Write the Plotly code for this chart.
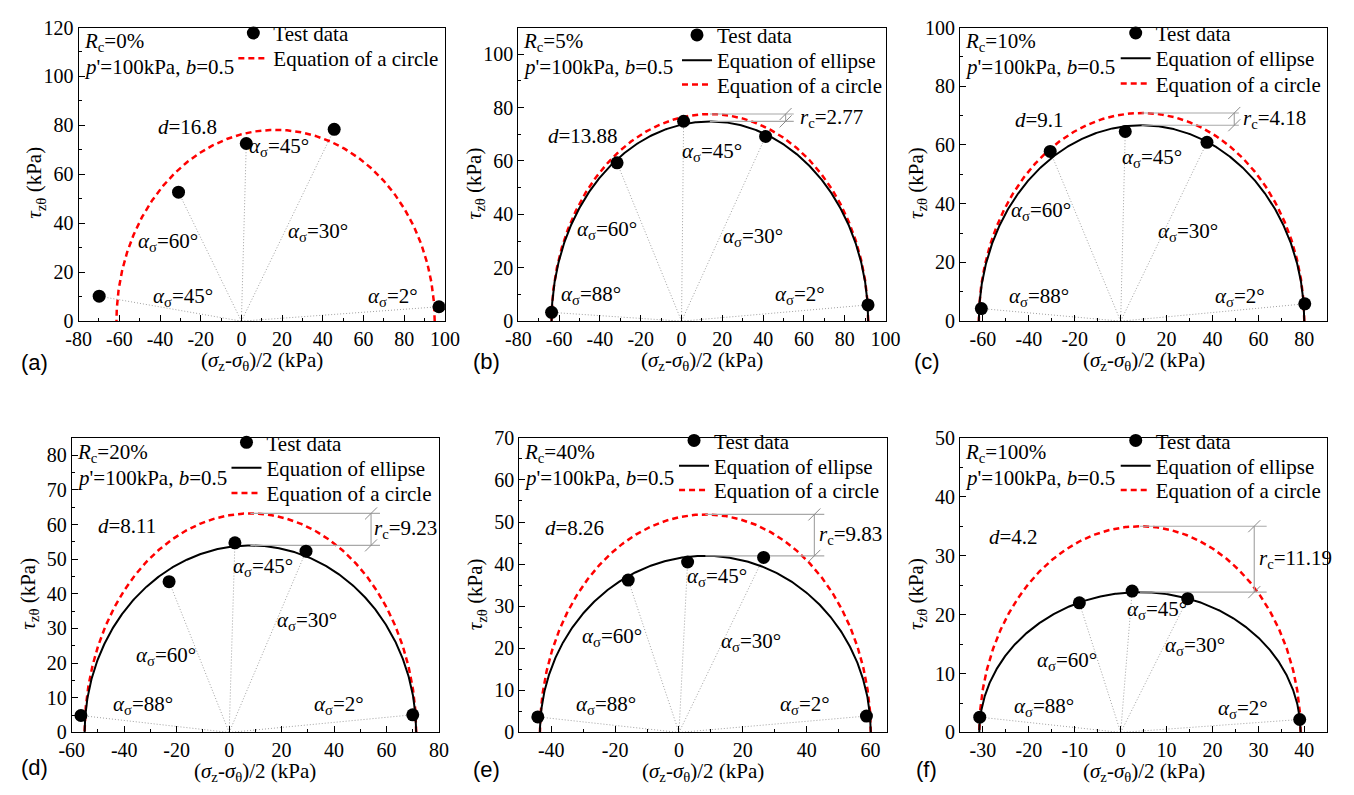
import numpy as np
import plotly.graph_objects as go

SERIF = "Liberation Serif"
SANS = "Liberation Sans"

# ---------------- data ----------------
panel_tags = ["(a)", "(b)", "(c)", "(d)", "(e)", "(f)"]
rc_percent = ["0%", "5%", "10%", "20%", "40%", "100%"]
offset_d = [16.8, 13.88, 9.1, 8.11, 8.26, 4.2]          # circle / ellipse centre shift
circle_radius = [78.2, 77.6, 70.9, 63.2, 51.8, 35.0]    # radius of the fitted circle
rc_gap = [None, 2.77, 4.18, 9.23, 9.83, 11.19]          # circle peak minus ellipse peak

test_x = [
    [-69.9, -30.9, 2.4, 45.6, 97.1],
    [-63.7, -31.6, 1.0, 41.2, 91.4],
    [-60.7, -30.7, 2.0, 37.6, 80.2],
    [-56.5, -22.9, 2.2, 29.3, 70.0],
    [-44.2, -15.9, 2.7, 26.5, 58.7],
    [-30.7, -9.0, 2.5, 14.6, 39.0],
]
test_y = [
    [10.2, 52.7, 72.6, 78.4, 5.9],
    [3.3, 59.3, 74.9, 69.2, 6.1],
    [4.3, 57.8, 64.6, 60.9, 5.9],
    [4.9, 43.5, 54.7, 52.3, 5.1],
    [3.7, 36.2, 40.5, 41.6, 3.9],
    [2.6, 22.0, 24.0, 22.7, 2.2],
]
angle_labels = [
    ["45°", "60°", "45°", "30°", "2°"],
    ["88°", "60°", "45°", "30°", "2°"],
    ["88°", "60°", "45°", "30°", "2°"],
    ["88°", "60°", "45°", "30°", "2°"],
    ["88°", "60°", "45°", "30°", "2°"],
    ["88°", "60°", "45°", "30°", "2°"],
]

x_ranges = [(-80, 100), (-80, 100), (-70, 90), (-60, 80), (-50, 65), (-35, 45)]
y_ranges = [(0, 120), (0, 110), (0, 100), (0, 85), (0, 70), (0, 50)]
x_tick_vals = [
    list(range(-80, 101, 20)), list(range(-80, 101, 20)), list(range(-60, 81, 20)),
    list(range(-60, 81, 20)), list(range(-40, 61, 20)), list(range(-30, 41, 10)),
]
y_tick_vals = [
    list(range(0, 121, 20)), list(range(0, 101, 20)), list(range(0, 101, 20)),
    list(range(0, 81, 10)), list(range(0, 71, 10)), list(range(0, 51, 10)),
]
x_tick_text = [[str(v) for v in vals] for vals in x_tick_vals]
y_tick_text = [[str(v) for v in vals] for vals in y_tick_vals]
x_minor = [10, 10, 10, 10, 10, 5]
y_minor = [10, 10, 10, 5, 5, 5]

# ---------------- layout helpers ----------------
W, H = 1354, 795
# plot-area boxes in pixels: left, top, right, bottom
boxes = [(67, 17, 441, 319), (516, 17, 891, 319), (967, 17, 1342, 319),
         (60, 439, 435, 742), (517, 439, 892, 742), (967, 439, 1342, 742)]

# text positions (data units) for the angle labels, d labels and r_c labels
angle_label_pos = [
    [(-28.8, 10.0), (-36.0, 32.5), (18.4, 71.3), (37.6, 36.5), (74.4, 10.0)],
    [(-44.4, 9.8), (-36.4, 34.1), (14.8, 63.2), (34.8, 31.7), (58.0, 9.8)],
    [(-35.4, 8.1), (-34.7, 37.4), (13.6, 55.7), (29.3, 30.4), (52.0, 8.4)],
    [(-32.9, 8.0), (-24.2, 22.0), (12.8, 47.8), (29.6, 32.3), (41.8, 8.0)],
    [(-22.9, 6.6), (-20.9, 22.8), (11.9, 37.0), (22.6, 21.6), (39.5, 6.6)],
    [(-16.8, 4.3), (-11.7, 12.1), (7.9, 20.7), (16.1, 14.6), (26.7, 3.9)],
]
d_label_pos = [(-26.4, 79.5), (-48.4, 69.4), (-35.4, 68.6), (-38.8, 59.6), (-32.8, 48.6), (-23.4, 33.2)]
rc_bar_x = [None, 51.0, 49.5, 54.1, 42.4, 29.1]
rc_line_end = [None, 55.0, 51.5, 57.5, 45.5, 31.8]
rc_text_x = [None, 57.3, 52.3, 54.6, 43.2, 29.6]
# legend rows: left edge of the entry text and vertical centre of each row (pixels)
legend_text_left = [275, 728, 1176, 268, 725, 1176]
legend_rows = [[33, 59], [35, 61, 86], [33, 59, 85], [454, 480, 506], [452, 478, 503], [452, 478, 503]]
LEGEND_SHIFT = 10   # offset between a one-entry legend box centre and its entry
tag_pos = [(22, 362), (483, 360), (933, 360), (22, 778), (483, 780), (933, 780)]

TXT = 21
fig = go.Figure()
annotations = []
layout = {}
legend_count = [0]


def new_legend(i, row):
    legend_count[0] += 1
    n = legend_count[0]
    key = "legend" if n == 1 else "legend%d" % n
    layout[key] = dict(x=(legend_text_left[i] - 50) / W,
                       y=1 - (legend_rows[i][row] - LEGEND_SHIFT) / H,
                       xref="paper", yref="paper", xanchor="left", yanchor="middle",
                       bgcolor="rgba(0,0,0,0)", borderwidth=0,
                       font=dict(family=SERIF, size=TXT, color="black"))
    return key


for i in range(6):
    s = "" if i == 0 else str(i + 1)
    xa, ya = "x" + s, "y" + s
    d, R, rc = offset_d[i], circle_radius[i], rc_gap[i]

    # dotted rays from the origin to each test point
    rx, ry = [], []
    for px, py in zip(test_x[i], test_y[i]):
        rx += [0, px, None]
        ry += [0, py, None]
    fig.add_trace(go.Scatter(x=rx, y=ry, mode="lines", xaxis=xa, yaxis=ya,
                             line=dict(color="#a0a0a0", width=1, dash="1px,2px"),
                             showlegend=False, hoverinfo="skip"))

    t = np.linspace(0, np.pi, 500)
    circle_row = 1 if rc is None else 2
    # fitted circle
    fig.add_trace(go.Scatter(x=d + R * np.cos(t), y=R * np.sin(t), mode="lines",
                             xaxis=xa, yaxis=ya, name="Equation of a circle",
                             line=dict(color="#ff0000", width=2.5, dash="6px,4px"),
                             legend=new_legend(i, circle_row)))
    if rc is not None:
        b = R - rc
        # fitted ellipse
        fig.add_trace(go.Scatter(x=d + R * np.cos(t), y=b * np.sin(t), mode="lines",
                                 xaxis=xa, yaxis=ya, name="Equation of ellipse",
                                 line=dict(color="black", width=2),
                                 legend=new_legend(i, 1)))
        # r_c dimension line
        xb, xe = rc_bar_x[i], rc_line_end[i]
        fig.add_trace(go.Scatter(x=[d, xe, None, d, xe, None, xb, xb],
                                 y=[R, R, None, b, b, None, b, R],
                                 mode="lines", xaxis=xa, yaxis=ya,
                                 line=dict(color="#a8a8a8", width=1.2),
                                 showlegend=False, hoverinfo="skip"))
        fig.add_trace(go.Scatter(x=[xb, xb], y=[b, R], mode="markers", xaxis=xa, yaxis=ya,
                                 marker=dict(symbol="line-ne", size=12,
                                             line=dict(color="#8a8a8a", width=1)),
                                 showlegend=False, hoverinfo="skip"))
        annotations.append(dict(x=rc_text_x[i], y=(R + b) / 2, xref=xa, yref=ya,
                                text="<i>r</i><sub>c</sub>=%.2f" % rc, showarrow=False,
                                xanchor="left", yanchor="middle",
                                font=dict(family=SERIF, size=TXT, color="black")))

    # test data
    fig.add_trace(go.Scatter(x=test_x[i], y=test_y[i], mode="markers", xaxis=xa, yaxis=ya,
                             name="Test data", marker=dict(color="black", size=13),
                             legend=new_legend(i, 0)))

    # axes
    l, tp, r, bt = boxes[i]
    common = dict(showline=True, linecolor="black", linewidth=1, mirror=True,
                  ticks="inside", ticklen=6, tickwidth=1, tickcolor="black",
                  showgrid=False, zeroline=False, tickmode="array",
                  tickfont=dict(family=SERIF, size=20, color="black"))
    layout["xaxis" + s] = dict(common, domain=[l / W, r / W], range=list(x_ranges[i]),
                               anchor=ya, tickvals=x_tick_vals[i], ticktext=x_tick_text[i],
                               minor=dict(tickmode="linear", tick0=0, dtick=x_minor[i],
                                          ticks="inside", ticklen=3, tickcolor="black"))
    layout["yaxis" + s] = dict(common, domain=[1 - bt / H, 1 - tp / H], range=list(y_ranges[i]),
                               anchor=xa, tickvals=y_tick_vals[i], ticktext=y_tick_text[i],
                               minor=dict(tickmode="linear", tick0=0, dtick=y_minor[i],
                                          ticks="inside", ticklen=3, tickcolor="black"))

    tf = dict(family=SERIF, size=TXT, color="black")
    # angle labels
    for lab, (ax_, ay_) in zip(angle_labels[i], angle_label_pos[i]):
        annotations.append(dict(x=ax_, y=ay_, xref=xa, yref=ya, showarrow=False,
                                text="<i>α</i><sub>σ</sub>=" + lab, font=tf))
    annotations.append(dict(x=d_label_pos[i][0], y=d_label_pos[i][1], xref=xa, yref=ya,
                            showarrow=False, text="<i>d</i>=%s" % offset_d[i], font=tf))
    # test conditions
    annotations.append(dict(x=0.008, y=0.95, xref=xa + " domain", yref=ya + " domain",
                            xanchor="left", yanchor="middle", showarrow=False,
                            text="<i>R</i><sub>c</sub>=" + rc_percent[i], font=tf))
    annotations.append(dict(x=0.008, y=0.865, xref=xa + " domain", yref=ya + " domain",
                            xanchor="left", yanchor="middle", showarrow=False,
                            text="<i>p</i>'=100kPa, <i>b</i>=0.5", font=tf))
    # axis titles
    annotations.append(dict(x=0.5, y=1 - (bt + 41) / H, xref=xa + " domain", yref="paper",
                            xanchor="center", yanchor="middle", showarrow=False,
                            text="(<i>σ</i><sub>z</sub>-<i>σ</i><sub>θ</sub>)/2 (kPa)", font=tf))
    annotations.append(dict(x=(l - 44) / W, y=0.47, xref="paper", yref=ya + " domain",
                            xanchor="center", yanchor="middle", showarrow=False, textangle=-90,
                            text="<i>τ</i><sub>zθ</sub> (kPa)", font=tf))
    # panel tag
    annotations.append(dict(x=tag_pos[i][0] / W, y=1 - tag_pos[i][1] / H, xref="paper", yref="paper",
                            xanchor="center", yanchor="middle", showarrow=False,
                            text=panel_tags[i], font=dict(family=SANS, size=22, color="black")))

fig.update_layout(**layout)
fig.update_layout(width=W, height=H, margin=dict(l=0, r=0, t=0, b=0),
                  paper_bgcolor="white", plot_bgcolor="white",
                  annotations=annotations, hovermode=False)

fig.write_html("out.html")
